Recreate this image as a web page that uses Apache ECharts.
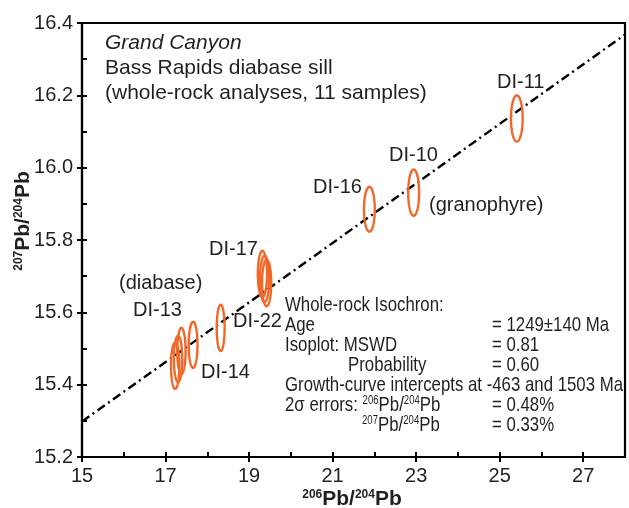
<!DOCTYPE html>
<html><head><meta charset="utf-8">
<script src="https://cdn.jsdelivr.net/npm/echarts@6/dist/echarts.min.js"></script>
<style>html,body{margin:0;padding:0;background:#fff}#c{width:629px;height:508px}</style>
</head><body><div id="c"></div>
<script>
// ---- data ----
const sampleNames = ['DI-11','DI-10','DI-16','DI-17a','DI-17b','DI-17c','DI-22','DI-14','DI-13a','DI-13b','DI-13c'];
const sampleX = [25.41, 22.94, 21.88, 19.32, 19.37, 19.42, 18.32, 17.66, 17.38, 17.23, 17.30];
const sampleY = [16.136, 15.931, 15.885, 15.706, 15.692, 15.681, 15.557, 15.510, 15.493, 15.452, 15.471];
const errX = [0.14, 0.13, 0.13, 0.11, 0.11, 0.11, 0.095, 0.105, 0.1, 0.1, 0.1];
const errY = [0.064, 0.064, 0.062, 0.064, 0.064, 0.064, 0.064, 0.064, 0.064, 0.064, 0.064];
const isoX = [15, 28];
const isoY = [15.298, 16.368];
const xTickLabels = [15, 17, 19, 21, 23, 25, 27];
const yTickLabels = [15.2, 15.4, 15.6, 15.8, 16.0, 16.2, 16.4];

const ORANGE = '#F0692A';
const TXT = '#231F20';
const SANS = 'Liberation Sans, Arial, Helvetica, sans-serif';

const ellipseData = sampleX.map((x, i) => [x, sampleY[i], errX[i], errY[i]]);
const isoData = isoX.map((x, i) => [x, isoY[i]]);

function renderEllipse(params, api) {
  const cx = api.value(0), cy = api.value(1), ex = api.value(2), ey = api.value(3);
  const pts = [];
  for (let k = 0; k < 72; k++) {
    const a = 2 * Math.PI * k / 72;
    pts.push(api.coord([cx + ex * Math.cos(a), cy + ey * Math.sin(a)]));
  }
  return { type: 'polygon', shape: { points: pts },
    style: { fill: 'none', stroke: ORANGE, lineWidth: 2.4 } };
}

function txt(x, y, text, opts) {
  return { type: 'text', x: x, y: y, z: 10,
    style: Object.assign({ text: text, fill: TXT, font: '20px ' + SANS,
      textAlign: 'left', textVerticalAlign: 'middle' }, opts || {}) };
}
const statRich = {
  sup: { fontSize: 12, fontFamily: SANS, fill: TXT, padding: [0, 0, 9, 0] },
  n: { fontSize: 21, fontFamily: SANS, fill: TXT }
};
function stat(x, y, text) {
  return { type: 'text', x: x, y: y, z: 10, scaleX: 0.8, scaleY: 1,
    style: { text: text, fill: TXT, fontSize: 21, fontFamily: SANS,
      textAlign: 'left', textVerticalAlign: 'middle', rich: statRich } };
}

const chart = echarts.init(document.getElementById('c'), null, { renderer: 'canvas' });
chart.setOption({
  animation: false,
  backgroundColor: '#fff',
  grid: { left: 82, right: 4, top: 23, bottom: 51, show: true, borderColor: '#000', borderWidth: 2.2, containLabel: false },
  xAxis: [
    { type: 'value', min: 15, max: 28, interval: 1, position: 'bottom',
      axisLine: { show: true, onZero: false, lineStyle: { color: '#000', width: 2.2 } },
      axisTick: { show: true, inside: true, length: 5, lineStyle: { color: '#000', width: 2 } },
      axisLabel: { customValues: xTickLabels, margin: 9, color: TXT, fontSize: 20, fontFamily: SANS,
        formatter: v => String(v) },
      splitLine: { show: false } },
    { type: 'value', min: 15, max: 28, interval: 1, position: 'bottom', gridIndex: 0,
      axisLine: { show: false, onZero: false },
      axisTick: { show: true, inside: false, length: 5, customValues: xTickLabels, lineStyle: { color: '#000', width: 2 } },
      axisLabel: { show: false }, splitLine: { show: false } }
  ],
  yAxis: [
    { type: 'value', min: 15.2, max: 16.4, interval: 0.1, position: 'left',
      axisLine: { show: true, onZero: false, lineStyle: { color: '#000', width: 2.2 } },
      axisTick: { show: true, inside: true, length: 5, lineStyle: { color: '#000', width: 2 } },
      axisLabel: { customValues: yTickLabels, margin: 9, color: TXT, fontSize: 20, fontFamily: SANS,
        formatter: v => Number(v).toFixed(1) },
      splitLine: { show: false } },
    { type: 'value', min: 15.2, max: 16.4, interval: 0.1, position: 'left', gridIndex: 0,
      axisLine: { show: false, onZero: false },
      axisTick: { show: true, inside: false, length: 5, customValues: yTickLabels, lineStyle: { color: '#000', width: 2 } },
      axisLabel: { show: false }, splitLine: { show: false } }
  ],
  series: [
    { type: 'line', data: isoData, xAxisIndex: 0, yAxisIndex: 0, symbol: 'none', silent: true,
      lineStyle: { color: '#000', width: 2.4, type: [9, 4, 2, 4] }, z: 2 },
    { type: 'custom', data: ellipseData, xAxisIndex: 0, yAxisIndex: 0, renderItem: renderEllipse,
      encode: { x: 0, y: 1 }, z: 3 }
  ],
  graphic: [
    txt(105, 43, 'Grand Canyon', { font: 'italic 21px ' + SANS }),
    txt(105, 68, 'Bass Rapids diabase sill', { font: '21px ' + SANS }),
    txt(105, 93, '(whole-rock analyses, 11 samples)', { font: '21px ' + SANS }),
    txt(497, 82, 'DI-11'),
    txt(389, 155, 'DI-10'),
    txt(429, 205, '(granophyre)'),
    txt(313, 187, 'DI-16'),
    txt(209, 249, 'DI-17'),
    txt(119, 283, '(diabase)'),
    txt(133, 310, 'DI-13'),
    txt(233, 321, 'DI-22'),
    txt(201, 372, 'DI-14'),
    stat(285, 305, 'Whole-rock Isochron:'),
    stat(285, 325.5, 'Age'),
    stat(492, 325.5, '= 1249±140 Ma'),
    stat(285, 345.5, 'Isoplot: MSWD'),
    stat(492, 345.5, '= 0.81'),
    stat(348, 365.5, 'Probability'),
    stat(492, 365.5, '= 0.60'),
    stat(285, 385.5, 'Growth-curve intercepts at -463 and 1503 Ma'),
    stat(285, 405.5, '{n|2σ errors: }{sup|206}{n|Pb/}{sup|204}{n|Pb}'),
    stat(492, 405.5, '= 0.48%'),
    stat(362, 425.5, '{sup|207}{n|Pb/}{sup|204}{n|Pb}'),
    stat(492, 425.5, '= 0.33%'),
    { type: 'text', x: 352, y: 499, z: 10,
      style: { text: '{s|206}{b|Pb/}{s|204}{b|Pb}', textAlign: 'center', textVerticalAlign: 'middle',
        rich: { s: { fontSize: 12, fontWeight: 'bold', fontFamily: SANS, fill: TXT, padding: [0, 0, 9, 0] },
                b: { fontSize: 21, fontWeight: 'bold', fontFamily: SANS, fill: TXT } } } },
    { type: 'text', x: 23, y: 221, rotation: Math.PI / 2, z: 10,
      style: { text: '{s|207}{b|Pb/}{s|204}{b|Pb}', textAlign: 'center', textVerticalAlign: 'middle',
        rich: { s: { fontSize: 12, fontWeight: 'bold', fontFamily: SANS, fill: TXT, padding: [0, 0, 9, 0] },
                b: { fontSize: 21, fontWeight: 'bold', fontFamily: SANS, fill: TXT } } } }
  ]
});
</script>
</body></html>
